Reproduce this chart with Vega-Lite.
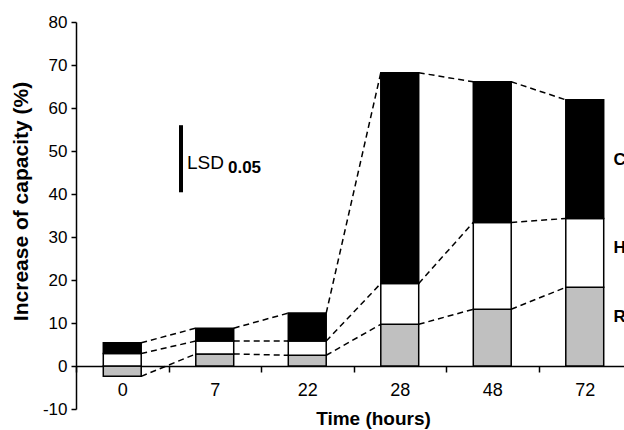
{
  "$schema": "https://vega.github.io/schema/vega-lite/v6.json",
  "width": 548,
  "height": 387,
  "autosize": {"type": "none"},
  "padding": {"left": 76, "top": 22, "right": 0, "bottom": 21},
  "background": "white",
  "config": {
    "view": {"stroke": null},
    "font": "Liberation Sans",
    "axis": {"grid": false, "domainColor": "black", "tickColor": "black", "labelColor": "black", "titleColor": "black"}
  },
  "datasets": {
    "cap": [
      {"hours": 0, "type": "R", "value": -2.4},
      {"hours": 0, "type": "H", "value": 2.9},
      {"hours": 0, "type": "C", "value": 2.5},
      {"hours": 7, "type": "R", "value": 2.8},
      {"hours": 7, "type": "H", "value": 3.0},
      {"hours": 7, "type": "C", "value": 3.0},
      {"hours": 22, "type": "R", "value": 2.5},
      {"hours": 22, "type": "H", "value": 3.3},
      {"hours": 22, "type": "C", "value": 6.5},
      {"hours": 28, "type": "R", "value": 9.7},
      {"hours": 28, "type": "H", "value": 9.5},
      {"hours": 28, "type": "C", "value": 49.0},
      {"hours": 48, "type": "R", "value": 13.2},
      {"hours": 48, "type": "H", "value": 20.2},
      {"hours": 48, "type": "C", "value": 32.7},
      {"hours": 72, "type": "R", "value": 18.3},
      {"hours": 72, "type": "H", "value": 16.0},
      {"hours": 72, "type": "C", "value": 27.6}
    ],
    "labels": [
      {"label": "C", "pos": 48.0},
      {"label": "H", "pos": 27.5},
      {"label": "R", "pos": 11.3}
    ],
    "lsd": [
      {"lo": 40.4, "hi": 56.0, "text": "LSD", "sub": "0.05", "mid": 47.3, "submid": 46.0}
    ]
  },
  "encoding": {
    "x": {
      "field": "hours", "type": "ordinal",
      "scale": {"range": [0, 555], "paddingInner": 0, "paddingOuter": 0},
      "axis": {
        "title": "Time (hours)", "titleFontSize": 19, "titleFontWeight": "bold",
        "titleX": 297, "titlePadding": 10,
        "labelAngle": 0, "labelFontSize": 18, "labelPadding": 9,
        "tickBand": "extent", "tickSize": 6, "tickWidth": 1.5, "domainWidth": 1.5,
        "offset": -43
      }
    },
    "y": {
      "field": "value", "type": "quantitative",
      "scale": {"domain": [-10, 80], "nice": false},
      "axis": {
        "title": "Increase of capacity (%)", "titleFontSize": 21, "titleFontWeight": "bold",
        "titlePadding": 11, "titleY": 179,
        "values": [-10, 0, 10, 20, 30, 40, 50, 60, 70, 80],
        "labelExpr": "'' + datum.value",
        "labelFontSize": 17, "labelPadding": 4, "tickSize": 5, "tickWidth": 1.5, "domainWidth": 1.5
      }
    }
  },
  "layer": [
    {
      "data": {"name": "cap"},
      "mark": {"type": "bar", "width": {"band": 0.41}, "stroke": "black", "strokeWidth": 1.5},
      "encoding": {
        "y": {
          "field": "value", "type": "quantitative", "stack": "zero"
        },
        "color": {
          "field": "type", "type": "nominal",
          "scale": {"domain": ["R", "H", "C"], "range": ["#c0c0c0", "#ffffff", "#000000"]},
          "legend": null
        },
        "order": {"field": "type", "sort": "descending"}
      }
    },
    {
      "data": {"name": "cap"},
      "transform": [
        {"stack": "value", "groupby": ["hours"], "sort": [{"field": "type", "order": "descending"}], "as": ["v0", "v1"]},
        {"window": [{"op": "lead", "field": "v1", "as": "nv1"}, {"op": "lead", "field": "hours", "as": "nhours"}], "groupby": ["type"], "sort": [{"field": "hours", "order": "ascending"}]},
        {"filter": "datum.nhours != null"}
      ],
      "mark": {"type": "rule", "color": "black", "strokeWidth": 1.5, "strokeDash": [6, 4]},
      "encoding": {
        "x": {"field": "hours", "type": "ordinal", "bandPosition": 0.705},
        "x2": {"field": "nhours", "bandPosition": 0.295},
        "y": {"field": "v1", "type": "quantitative"},
        "y2": {"field": "nv1"}
      }
    },
    {
      "data": {"name": "labels"},
      "mark": {"type": "text", "align": "left", "baseline": "middle", "fontSize": 17, "fontWeight": "bold", "color": "black"},
      "encoding": {
        "x": {"datum": 72, "type": "ordinal", "bandPosition": 0.81},
        "y": {"field": "pos", "type": "quantitative"},
        "text": {"field": "label"}
      }
    },
    {
      "data": {"name": "lsd"},
      "mark": {"type": "rule", "color": "black", "strokeWidth": 4},
      "encoding": {
        "x": {"datum": 7, "type": "ordinal", "bandPosition": 0.135},
        "y": {"field": "lo", "type": "quantitative"},
        "y2": {"field": "hi"}
      }
    },
    {
      "data": {"name": "lsd"},
      "mark": {"type": "text", "align": "left", "baseline": "middle", "fontSize": 19, "color": "black"},
      "encoding": {
        "x": {"datum": 7, "type": "ordinal", "bandPosition": 0.2},
        "y": {"field": "mid", "type": "quantitative"},
        "text": {"field": "text"}
      }
    },
    {
      "data": {"name": "lsd"},
      "mark": {"type": "text", "align": "left", "baseline": "middle", "fontSize": 17, "fontWeight": "bold", "color": "black"},
      "encoding": {
        "x": {"datum": 7, "type": "ordinal", "bandPosition": 0.643},
        "y": {"field": "submid", "type": "quantitative"},
        "text": {"field": "sub"}
      }
    }
  ]
}
